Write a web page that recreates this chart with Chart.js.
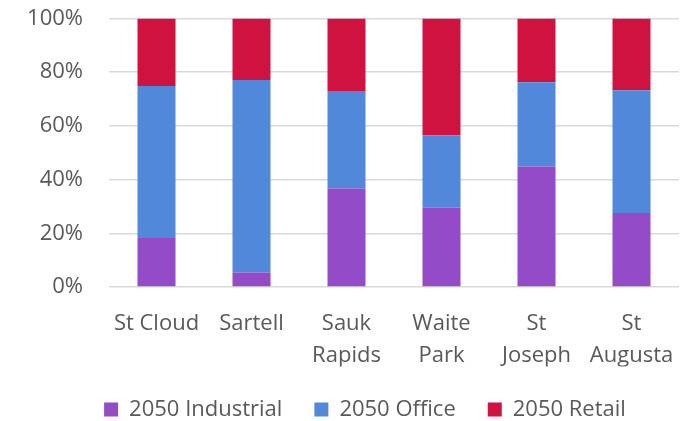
<!DOCTYPE html>
<html>
<head>
<meta charset="utf-8">
<script src="https://cdn.jsdelivr.net/npm/chart.js@4/dist/chart.umd.min.js"></script>
<style>
html,body{margin:0;padding:0;background:#fff;}
#wrap{width:695px;height:421px;position:relative;}
</style>
</head>
<body>
<div id="wrap"><canvas id="c" width="695" height="421"></canvas></div>
<script>
const categories = [["St Cloud"], ["Sartell"], ["Sauk", "Rapids"], ["Waite", "Park"], ["St", "Joseph"], ["St", "Augusta"]];
const industrial = [18.3, 5.4, 36.7, 29.6, 44.9, 27.6];
const office = [56.6, 71.7, 36.3, 26.9, 31.4, 45.7];
const retail = [25.1, 22.9, 27.0, 43.5, 23.7, 26.7];
const yTicks = [0, 20, 40, 60, 80, 100];

const FONT = "'Open Sans', 'Noto Sans', sans-serif";
const TXT = '#595959';

const shiftLegend = {
  id: 'shiftLegend',
  afterLayout(chart) {
    if (chart.legend) { chart.legend.left += 51; }
  }
};

new Chart(document.getElementById('c'), {
  type: 'bar',
  data: {
    labels: categories,
    datasets: [
      { label: '2050 Industrial', data: industrial, backgroundColor: '#934BC7', borderWidth: 0 },
      { label: '2050 Office', data: office, backgroundColor: '#5288D9', borderWidth: 0 },
      { label: '2050 Retail', data: retail, backgroundColor: '#CF1240', borderWidth: 0 }
    ]
  },
  plugins: [shiftLegend],
  options: {
    responsive: false,
    animation: false,
    devicePixelRatio: 1,
    layout: { padding: { left: 0, right: 16, top: 18.5, bottom: -9.5 } },
    datasets: { bar: { barPercentage: 0.4, categoryPercentage: 1.0 } },
    scales: {
      x: {
        stacked: true,
        grid: { display: false, drawTicks: false },
        border: { display: false },
        ticks: { color: TXT, font: { family: FONT, size: 22, lineHeight: 1.47 }, padding: 20, maxRotation: 0, autoSkip: false },
        afterFit: s => { s.height = 79.4; }
      },
      y: {
        stacked: true,
        min: 0, max: 100,
        afterBuildTicks: s => { s.ticks = yTicks.map(v => ({ value: v })); },
        grid: { color: '#D9D9D9', lineWidth: 1.5, drawTicks: true, tickLength: 24, tickColor: 'rgba(0,0,0,0)' },
        border: { display: false },
        ticks: { color: TXT, font: { family: FONT, size: 22 }, padding: 2, callback: v => v + '%' },
        afterFit: s => { s.width = 109; }
      }
    },
    plugins: {
      legend: {
        position: 'bottom',
        labels: { color: TXT, font: { family: FONT, size: 22 }, boxWidth: 14, boxHeight: 14, padding: 32 }
      },
      tooltip: { enabled: false }
    }
  }
});
</script>
</body>
</html>
